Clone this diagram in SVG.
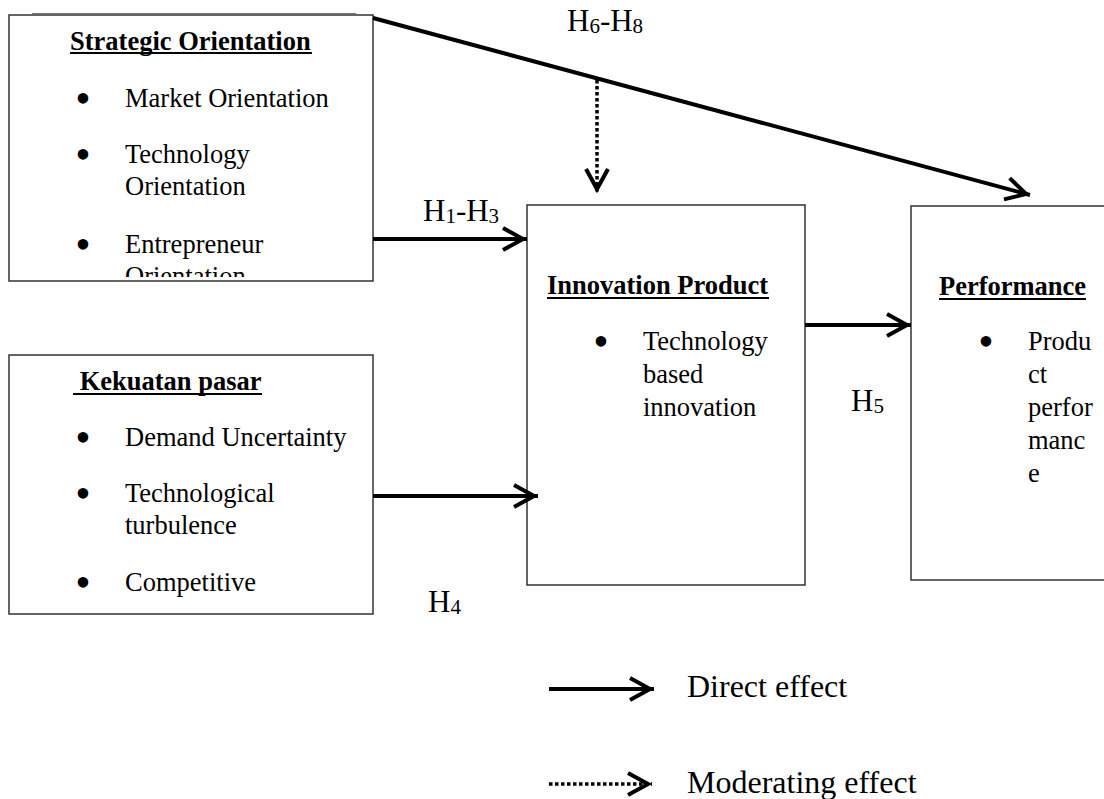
<svg xmlns="http://www.w3.org/2000/svg" width="1104" height="799" viewBox="0 0 1104 799">
  <style>
    .box { fill: #fff; stroke: #333; stroke-width: 1.5; }
    .t { font-family: "Liberation Serif", "Times New Roman", serif; font-size: 26.5px; fill: #000; }
    .b { font-weight: bold; }
    .ul { stroke: #000; stroke-width: 2; }
    .h { font-family: "Liberation Serif", "Times New Roman", serif; font-size: 31px; fill: #000; }
    .sub { font-size: 21px; }
    .leg { font-family: "Liberation Serif", "Times New Roman", serif; font-size: 32px; fill: #000; }
    .bul { font-family: "Liberation Serif", "Times New Roman", serif; font-size: 44px; text-anchor: middle; fill: #000; }
    .solid { stroke: #000; stroke-width: 4; fill: none; marker-end: url(#chev); }
    .dotted { stroke: #000; stroke-width: 3.5; fill: none; stroke-dasharray: 3.5 2.5; marker-end: url(#chev); }
  </style>
  <defs>
    <marker id="chev" viewBox="-24 -14 30 28" markerWidth="30" markerHeight="28" refX="4" refY="0" orient="auto" markerUnits="userSpaceOnUse">
      <path d="M-20,-11 L0,0 L-20,11" fill="none" stroke="#000" stroke-width="4"/>
    </marker>
    <clipPath id="soClip">
      <rect x="9" y="15" width="364" height="262"/>
    </clipPath>
  </defs>

  <rect width="1104" height="799" fill="#fff"/>

  <!-- Strategic Orientation -->
  <g id="strategic-orientation">
    <line x1="32" y1="13.5" x2="356" y2="13.5" stroke="#777" stroke-width="1"/>
    <rect class="box" x="9" y="15" width="364" height="266"/>
    <g clip-path="url(#soClip)">
      <text class="t b" x="70" y="50">Strategic Orientation</text>
      <line class="ul" x1="70" y1="53" x2="312" y2="53"/>
      <text class="bul" x="83" y="113">•</text>
      <text class="t" x="125" y="107">Market Orientation</text>
      <text class="bul" x="83" y="169">•</text>
      <text class="t" x="125" y="163">Technology</text>
      <text class="t" x="125" y="195">Orientation</text>
      <text class="bul" x="83" y="259">•</text>
      <text class="t" x="125" y="253">Entrepreneur</text>
      <text class="t" x="125" y="285">Orientation</text>
    </g>
  </g>

  <!-- Kekuatan pasar -->
  <g id="kekuatan-pasar">
    <rect class="box" x="9" y="355" width="364" height="259"/>
    <text class="t b" x="73" y="390" xml:space="preserve"> Kekuatan pasar</text>
    <line class="ul" x1="73" y1="394" x2="262" y2="394"/>
    <text class="bul" x="83" y="452">•</text>
    <text class="t" x="125" y="446">Demand Uncertainty</text>
    <text class="bul" x="83" y="508">•</text>
    <text class="t" x="125" y="502">Technological</text>
    <text class="t" x="125" y="534">turbulence</text>
    <text class="bul" x="83" y="597">•</text>
    <text class="t" x="125" y="591">Competitive</text>
  </g>

  <!-- Innovation Product -->
  <g id="innovation-product">
    <rect class="box" x="527" y="205" width="278" height="380"/>
    <text class="t b" x="547" y="294">Innovation Product</text>
    <line class="ul" x1="547" y1="298" x2="769" y2="298"/>
    <text class="bul" x="601" y="356">•</text>
    <text class="t" x="643" y="350">Technology</text>
    <text class="t" x="643" y="383">based</text>
    <text class="t" x="643" y="416">innovation</text>
  </g>

  <!-- Performance -->
  <g id="performance">
    <rect class="box" x="911" y="206" width="210" height="374"/>
    <text class="t b" x="939" y="295">Performance</text>
    <line class="ul" x1="939" y1="299" x2="1086" y2="299"/>
    <text class="bul" x="986" y="356">•</text>
    <text class="t" x="1028" y="350">Produ</text>
    <text class="t" x="1028" y="383">ct</text>
    <text class="t" x="1028" y="416">perfor</text>
    <text class="t" x="1028" y="449">manc</text>
    <text class="t" x="1028" y="482">e</text>
  </g>

  <!-- Connectors -->
  <g id="connectors">
    <line class="solid" x1="373" y1="18" x2="1030" y2="195"/>
    <line class="dotted" x1="597" y1="80" x2="597" y2="193"/>
    <line class="solid" x1="373" y1="239" x2="527" y2="239"/>
    <line class="solid" x1="373" y1="496" x2="538" y2="496"/>
    <line class="solid" x1="805" y1="325" x2="911" y2="325"/>
  </g>

  <!-- Hypothesis labels -->
  <g id="labels">
    <text class="h" x="567" y="31">H<tspan class="sub" dy="2">6</tspan><tspan dy="-2">-H</tspan><tspan class="sub" dy="2">8</tspan></text>
    <text class="h" x="423" y="221">H<tspan class="sub" dy="2">1</tspan><tspan dy="-2">-H</tspan><tspan class="sub" dy="2">3</tspan></text>
    <text class="h" x="851" y="411">H<tspan class="sub" dy="2">5</tspan></text>
    <text class="h" x="428" y="612">H<tspan class="sub" dy="2">4</tspan></text>
  </g>

  <!-- Legend -->
  <g id="legend">
    <line class="solid" x1="549" y1="689" x2="654" y2="689"/>
    <text class="leg" x="687" y="697">Direct effect</text>
    <line class="dotted" x1="549" y1="784" x2="652" y2="784"/>
    <text class="leg" x="687" y="793">Moderating effect</text>
  </g>
</svg>
